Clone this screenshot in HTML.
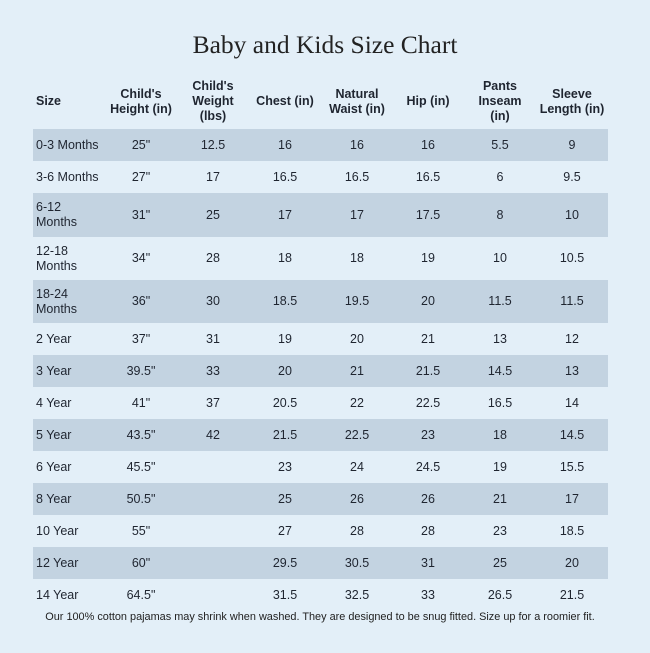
<!DOCTYPE html>
<html><head><meta charset="utf-8"><style>
body{margin:0;width:650px;height:653px;background:#e3eff8;font-family:"Liberation Sans","DejaVu Sans",sans-serif;color:#1f2530;position:relative;overflow:hidden}
.t{position:absolute;top:30px;left:0;width:650px;text-align:center;font-family:"Liberation Serif",serif;font-size:25.5px;color:#222}
.row{position:absolute;left:33px;width:575px}
.sh{background:#c3d3e1}
.c{position:absolute;top:0;height:100%;display:flex;align-items:center;justify-content:center;text-align:center;font-size:12.5px;line-height:15px;width:72px}
.s{justify-content:flex-start;text-align:left;left:3px !important;width:70px}
.h .c{font-weight:bold;font-size:12.5px;line-height:15px}
.f{position:absolute;top:611px;left:0;width:640px;text-align:center;font-size:10.9px;color:#222}
</style></head><body>
<div class="t">Baby and Kids Size Chart</div>
<div id="tb"></div>
<div class="f">Our 100% cotton pajamas may shrink when washed. They are designed to be snug fitted. Size up for a roomier fit.</div>
<script>
var cx=[36,141,213,285,357,428,500,572];
var head=["Size","Child's<br>Height (in)","Child's<br>Weight<br>(lbs)","Chest (in)","Natural<br>Waist (in)","Hip (in)","Pants<br>Inseam<br>(in)","Sleeve<br>Length (in)"];
var rows=[
["0-3 Months",'25"',"12.5","16","16","16","5.5","9"],
["3-6 Months",'27"',"17","16.5","16.5","16.5","6","9.5"],
["6-12<br>Months",'31"',"25","17","17","17.5","8","10"],
["12-18<br>Months",'34"',"28","18","18","19","10","10.5"],
["18-24<br>Months",'36"',"30","18.5","19.5","20","11.5","11.5"],
["2 Year",'37"',"31","19","20","21","13","12"],
["3 Year",'39.5"',"33","20","21","21.5","14.5","13"],
["4 Year",'41"',"37","20.5","22","22.5","16.5","14"],
["5 Year",'43.5"',"42","21.5","22.5","23","18","14.5"],
["6 Year",'45.5"',"","23","24","24.5","19","15.5"],
["8 Year",'50.5"',"","25","26","26","21","17"],
["10 Year",'55"',"","27","28","28","23","18.5"],
["12 Year",'60"',"","29.5","30.5","31","25","20"],
["14 Year",'64.5"',"","31.5","32.5","33","26.5","21.5"]];
var b=[129,161,193,237,280,323,355,387,419,451,483,515,547,579,611];
function mk(cells,top,h,cls){var r='<div class="row '+cls+'" style="top:'+top+'px;height:'+h+'px">';
for(var i=0;i<8;i++){var l=cx[i]-33-36;r+='<div class="c'+(i==0?' s':'')+'" style="left:'+l+'px">'+cells[i]+'</div>';}
return r+'</div>';}
var o=mk(head,74,55,'h');
for(var k=0;k<rows.length;k++)o+=mk(rows[k],b[k],b[k+1]-b[k],k%2==0?'sh':'');
document.getElementById('tb').innerHTML=o;
</script>
</body></html>
